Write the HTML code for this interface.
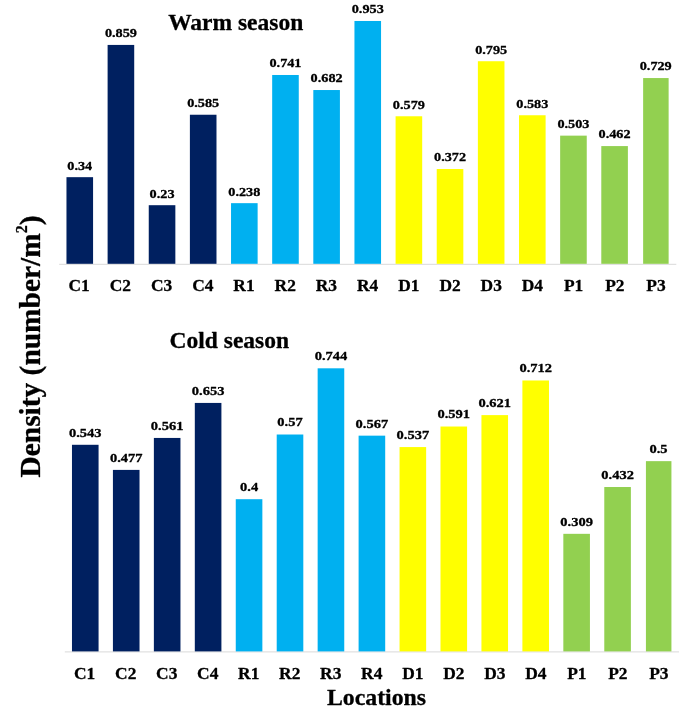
<!DOCTYPE html>
<html><head><meta charset="utf-8"><title>Density chart</title>
<style>
html,body{margin:0;padding:0;background:#fff;}
body{width:685px;height:708px;overflow:hidden;}
svg{display:block;}
text{font-family:"Liberation Serif","DejaVu Serif",serif;font-weight:bold;fill:#000;text-anchor:middle;stroke:#000;stroke-width:0.3px;stroke-linejoin:round;}
.v{font-size:13.2px;}.w{font-size:12.4px;}.t{font-size:17.6px;}.h{font-size:23.5px;}.y{font-size:29.4px;}.x{font-size:23.8px;}
</style></head><body>
<svg width="685" height="708" viewBox="0 0 685 708">
<rect width="685" height="708" fill="#fff"/>

<line x1="59.2" y1="264.3" x2="676.3" y2="264.3" stroke="#D9D9D9" stroke-width="1"/>
<rect x="66.47" y="177.17" width="26.60" height="86.63" fill="#002060"/>
<text class="v" transform="translate(79.77,169.57) scale(1.08,1)">0.34</text>
<text class="t" transform="translate(79.17,291.40) scale(0.99,1)">C1</text>
<rect x="107.61" y="44.93" width="26.60" height="218.87" fill="#002060"/>
<text class="v" transform="translate(120.91,37.33) scale(1.08,1)">0.859</text>
<text class="t" transform="translate(120.38,291.40) scale(0.99,1)">C2</text>
<rect x="148.75" y="205.20" width="26.60" height="58.60" fill="#002060"/>
<text class="v" transform="translate(162.05,197.60) scale(1.08,1)">0.23</text>
<text class="t" transform="translate(161.58,291.40) scale(0.99,1)">C3</text>
<rect x="189.89" y="114.74" width="26.60" height="149.06" fill="#002060"/>
<text class="v" transform="translate(203.19,107.14) scale(1.08,1)">0.585</text>
<text class="t" transform="translate(202.78,291.40) scale(0.99,1)">C4</text>
<rect x="231.03" y="203.16" width="26.60" height="60.64" fill="#00B0F0"/>
<text class="v" transform="translate(244.33,195.56) scale(1.08,1)">0.238</text>
<text class="t" transform="translate(243.99,291.40) scale(0.99,1)">R1</text>
<rect x="272.17" y="74.99" width="26.60" height="188.81" fill="#00B0F0"/>
<text class="v" transform="translate(285.47,67.39) scale(1.08,1)">0.741</text>
<text class="t" transform="translate(285.19,291.40) scale(0.99,1)">R2</text>
<rect x="313.31" y="90.03" width="26.60" height="173.77" fill="#00B0F0"/>
<text class="v" transform="translate(326.61,82.43) scale(1.08,1)">0.682</text>
<text class="t" transform="translate(326.40,291.40) scale(0.99,1)">R3</text>
<rect x="354.45" y="20.98" width="26.60" height="242.82" fill="#00B0F0"/>
<text class="v" transform="translate(367.75,13.38) scale(1.08,1)">0.953</text>
<text class="t" transform="translate(367.60,291.40) scale(0.99,1)">R4</text>
<rect x="395.59" y="116.27" width="26.60" height="147.53" fill="#FFFF00"/>
<text class="v" transform="translate(408.89,108.67) scale(1.08,1)">0.579</text>
<text class="t" transform="translate(408.81,291.40) scale(0.99,1)">D1</text>
<rect x="436.73" y="169.01" width="26.60" height="94.79" fill="#FFFF00"/>
<text class="v" transform="translate(450.03,161.41) scale(1.08,1)">0.372</text>
<text class="t" transform="translate(450.01,291.40) scale(0.99,1)">D2</text>
<rect x="477.87" y="61.23" width="26.60" height="202.57" fill="#FFFF00"/>
<text class="v" transform="translate(491.17,53.63) scale(1.08,1)">0.795</text>
<text class="t" transform="translate(491.22,291.40) scale(0.99,1)">D3</text>
<rect x="519.01" y="115.25" width="26.60" height="148.55" fill="#FFFF00"/>
<text class="v" transform="translate(532.31,107.65) scale(1.08,1)">0.583</text>
<text class="t" transform="translate(532.42,291.40) scale(0.99,1)">D4</text>
<rect x="560.15" y="135.64" width="26.60" height="128.16" fill="#92D050"/>
<text class="v" transform="translate(573.45,128.04) scale(1.08,1)">0.503</text>
<text class="t" transform="translate(573.63,291.40) scale(0.99,1)">P1</text>
<rect x="601.29" y="146.08" width="26.60" height="117.72" fill="#92D050"/>
<text class="v" transform="translate(614.59,138.48) scale(1.08,1)">0.462</text>
<text class="t" transform="translate(614.83,291.40) scale(0.99,1)">P2</text>
<rect x="643.13" y="78.05" width="25.50" height="185.75" fill="#92D050"/>
<text class="v" transform="translate(655.73,70.45) scale(1.08,1)">0.729</text>
<text class="t" transform="translate(656.04,291.40) scale(0.99,1)">P3</text>
<text class="h" transform="translate(235.70,29.90) scale(1.0,1)">Warm season</text>
<line x1="64.8" y1="651.9" x2="679.0" y2="651.9" stroke="#D9D9D9" stroke-width="1"/>
<rect x="71.97" y="444.79" width="26.60" height="206.61" fill="#002060"/>
<text class="w" transform="translate(85.27,436.69) scale(1.17,1)">0.543</text>
<text class="t" transform="translate(84.67,679.20) scale(0.99,1)">C1</text>
<rect x="112.92" y="469.90" width="26.60" height="181.50" fill="#002060"/>
<text class="w" transform="translate(126.22,461.80) scale(1.17,1)">0.477</text>
<text class="t" transform="translate(125.69,679.20) scale(0.99,1)">C2</text>
<rect x="153.87" y="437.94" width="26.60" height="213.46" fill="#002060"/>
<text class="w" transform="translate(167.17,429.84) scale(1.17,1)">0.561</text>
<text class="t" transform="translate(166.70,679.20) scale(0.99,1)">C3</text>
<rect x="194.81" y="402.93" width="26.60" height="248.47" fill="#002060"/>
<text class="w" transform="translate(208.11,394.83) scale(1.17,1)">0.653</text>
<text class="t" transform="translate(207.71,679.20) scale(0.99,1)">C4</text>
<rect x="235.76" y="499.20" width="26.60" height="152.20" fill="#00B0F0"/>
<text class="w" transform="translate(249.06,491.10) scale(1.17,1)">0.4</text>
<text class="t" transform="translate(248.72,679.20) scale(0.99,1)">R1</text>
<rect x="276.71" y="434.51" width="26.60" height="216.88" fill="#00B0F0"/>
<text class="w" transform="translate(290.01,426.41) scale(1.17,1)">0.57</text>
<text class="t" transform="translate(289.73,679.20) scale(0.99,1)">R2</text>
<rect x="317.65" y="368.31" width="26.60" height="283.09" fill="#00B0F0"/>
<text class="w" transform="translate(330.95,360.21) scale(1.17,1)">0.744</text>
<text class="t" transform="translate(330.74,679.20) scale(0.99,1)">R3</text>
<rect x="358.60" y="435.66" width="26.60" height="215.74" fill="#00B0F0"/>
<text class="w" transform="translate(371.90,427.56) scale(1.17,1)">0.567</text>
<text class="t" transform="translate(371.75,679.20) scale(0.99,1)">R4</text>
<rect x="399.55" y="447.07" width="26.60" height="204.33" fill="#FFFF00"/>
<text class="w" transform="translate(412.85,438.97) scale(1.17,1)">0.537</text>
<text class="t" transform="translate(412.77,679.20) scale(0.99,1)">D1</text>
<rect x="440.49" y="426.52" width="26.60" height="224.88" fill="#FFFF00"/>
<text class="w" transform="translate(453.79,418.42) scale(1.17,1)">0.591</text>
<text class="t" transform="translate(453.78,679.20) scale(0.99,1)">D2</text>
<rect x="481.44" y="415.11" width="26.60" height="236.29" fill="#FFFF00"/>
<text class="w" transform="translate(494.74,407.01) scale(1.17,1)">0.621</text>
<text class="t" transform="translate(494.79,679.20) scale(0.99,1)">D3</text>
<rect x="522.39" y="380.48" width="26.60" height="270.92" fill="#FFFF00"/>
<text class="w" transform="translate(535.69,372.38) scale(1.17,1)">0.712</text>
<text class="t" transform="translate(535.80,679.20) scale(0.99,1)">D4</text>
<rect x="563.33" y="533.83" width="26.60" height="117.57" fill="#92D050"/>
<text class="w" transform="translate(576.63,525.73) scale(1.17,1)">0.309</text>
<text class="t" transform="translate(576.81,679.20) scale(0.99,1)">P1</text>
<rect x="604.28" y="487.02" width="26.60" height="164.38" fill="#92D050"/>
<text class="w" transform="translate(617.58,478.92) scale(1.17,1)">0.432</text>
<text class="t" transform="translate(617.83,679.20) scale(0.99,1)">P2</text>
<rect x="645.93" y="461.15" width="25.50" height="190.25" fill="#92D050"/>
<text class="w" transform="translate(658.53,453.05) scale(1.17,1)">0.5</text>
<text class="t" transform="translate(658.84,679.20) scale(0.99,1)">P3</text>
<text class="h" transform="translate(229.30,347.80) scale(1.0,1)">Cold season</text>
<text class="y" transform="translate(40.00,346.50) rotate(-90) scale(1.0,1)">Density (number/m<tspan dy="-13.5" font-size="16">2</tspan><tspan dy="13.5">)</tspan></text>
<text class="x" transform="translate(376.50,704.60) scale(1.0,1)">Locations</text>
</svg></body></html>
